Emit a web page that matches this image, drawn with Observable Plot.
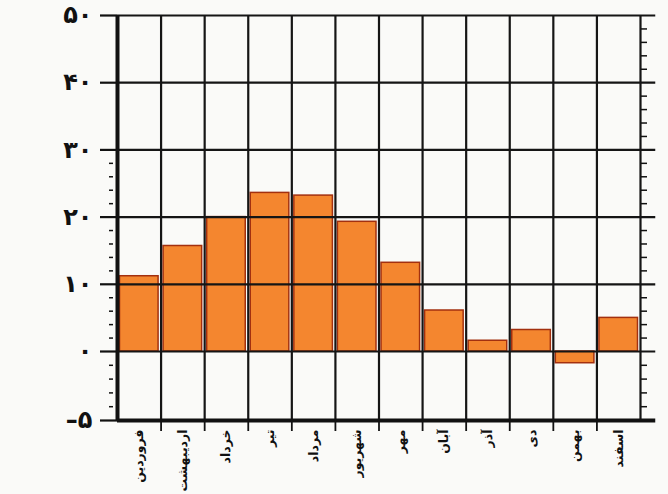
<!DOCTYPE html>
<html>
<head>
<meta charset="utf-8">
<script src="https://cdn.jsdelivr.net/npm/d3@7"></script>
<script src="https://cdn.jsdelivr.net/npm/@observablehq/plot@0.6"></script>
<style>
  html, body { margin: 0; padding: 0; background: #fafaf8; }
  #chart { width: 668px; height: 494px; }
</style>
</head>
<body>
<div id="chart"></div>
<script>
const months = ["فروردین","اردیبهشت","خرداد","تیر","مرداد","شهریور","مهر","آبان","آذر","دی","بهمن","اسفند"];
const values = [11.2, 15.7, 20.0, 23.6, 23.2, 19.3, 13.2, 6.1, 1.6, 3.2, -0.85, 5.0];
const majorTicks = [-5, 0, 10, 20, 30, 40, 50];
const minorLeft = [-4, -3, -2, -1, 2, 4, 6, 8, 12, 14, 16, 18, 22, 24, 26, 28];
const minorRight = [-4, -3, -2, -1, 2, 4, 6, 8, 12, 14, 16, 18, 22, 24, 26, 28, 32, 34, 36, 38, 42, 44, 46, 48];

const data = months.map((m, i) => ({month: m, i, value: values[i]}));
const boundaries = d3.range(0, months.length + 1);
const centers = months.map((m, i) => i + 0.5);

const fa = d => (d < 0 ? "–" : "") + String(Math.abs(d)).replace(/\d/g, c => "۰۱۲۳۴۵۶۷۸۹"[+c]);

const chart = Plot.plot({
  width: 668,
  height: 494,
  marginLeft: 117,
  marginRight: 28,
  marginTop: 15,
  marginBottom: 74,
  style: {background: "#fafaf8", fontFamily: "DejaVu Sans", color: "#111"},
  x: {type: "linear", domain: [0, 12], range: [117, 640]},
  y: {type: "linear", domain: [-5, 0, 50], range: [420, 351, 15]},
  marks: [
    Plot.rectY(data, {x1: d => d.i, x2: d => d.i + 1, y1: 0, y2: "value",
      fill: "#f4862f", stroke: "#a3300f", strokeWidth: 1.5, insetLeft: 2.5, insetRight: 2.5}),
    Plot.ruleY([0, 10, 20, 30, 40, 50], {x1: 0, x2: 12.35, stroke: "#151515", strokeWidth: 2.2}),
    Plot.ruleX(boundaries.slice(1), {y1: -5, y2: 50, stroke: "#151515", strokeWidth: 2.2}),
    Plot.ruleX([0], {y1: -5, y2: 50, stroke: "#111", strokeWidth: 4}),
    Plot.ruleY([-5], {x1: 0, x2: 12.35, stroke: "#111", strokeWidth: 4}),
    Plot.axisY({ticks: majorTicks, tickSize: 17, tickPadding: 8, tickFormat: fa,
      fontSize: 24, fontWeight: "bold", strokeWidth: 2.2, label: null}),
    Plot.axisY({ticks: minorLeft, tickSize: 4, tickFormat: () => "", dx: -4, strokeWidth: 1.5, label: null}),
    Plot.axisY({anchor: "right", ticks: minorRight, tickSize: 6, tickFormat: () => "", strokeWidth: 1.5, label: null}),
    Plot.axisX({ticks: boundaries.slice(1, 12), tickSize: 11, tickFormat: () => "", strokeWidth: 1.8, label: null}),
    Plot.axisX({ticks: centers, tickSize: 0, tickRotate: -90, tickPadding: 9,
      tickFormat: d => months[Math.floor(d)], fontSize: 12.5, fontWeight: "bold", label: null})
  ]
});
document.getElementById("chart").appendChild(chart);
</script>
</body>
</html>
